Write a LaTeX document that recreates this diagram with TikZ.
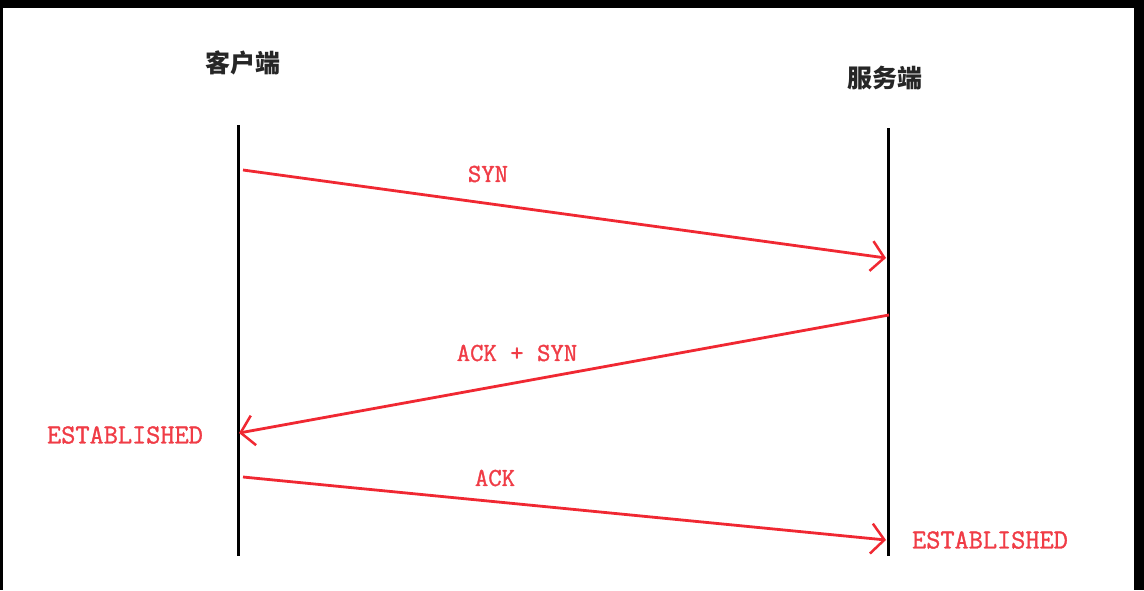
\documentclass[tikz,border=0pt]{standalone}
\usepackage{fontspec}
\newfontfamily\latmono[FakeBold=1.2]{Latin Modern Mono}
\newfontfamily\cjk{Noto Sans CJK SC}
\usetikzlibrary{arrows.meta}
\definecolor{msgred}{RGB}{240,40,50}
\definecolor{lblred}{RGB}{240,60,70}
\tikzset{
  lifeline/.style={line width=3pt, black},
  msg/.style={line width=2.8pt, msgred, -{Straight Barb[length=13pt,width=30pt,line width=2.5pt]}},
  msglbl/.style={font=\latmono\fontsize{26}{28}\selectfont, text=lblred, inner sep=0pt},
  statelbl/.style={font=\latmono\fontsize{27.5}{29}\selectfont, text=lblred, inner sep=0pt},
  partlbl/.style={font=\cjk\bfseries\fontsize{25}{27}\selectfont, text=black!85, inner sep=0pt}
}
\begin{document}
\begin{tikzpicture}[x=1pt,y=-1pt]
\useasboundingbox (0,0) rectangle (1144,590);
\fill[white] (0,0) rectangle (1144,590);
% frame
\fill[black] (0,0) rectangle (1144,8);
\fill[black] (0,0) rectangle (3,590);
\fill[black] (1134,0) rectangle (1144,590);
% participants
\node[partlbl] (client) at (243,63) {客户端};
\node[partlbl] (server) at (885,78) {服务端};
% lifelines
\coordinate (ct) at (238,125);
\coordinate (cb) at (238,556);
\coordinate (st) at (888,128);
\coordinate (sb) at (888,556);
\draw[lifeline] (ct) -- (cb);
\draw[lifeline] (st) -- (sb);
% message end points
\coordinate (m1s) at (243,170);
\coordinate (m1e) at (886,258);
\coordinate (m2s) at (889,315);
\coordinate (m2e) at (239,433);
\coordinate (m3s) at (243,477);
\coordinate (m3e) at (886,540);
\draw[msg] (m1s) -- (m1e);
\draw[msg] (m2s) -- (m2e);
\draw[msg] (m3s) -- (m3e);
% labels
\node[msglbl] (syn) at (488,174) {SYN};
\node[msglbl] (acksyn) at (517,353) {ACK + SYN};
\node[msglbl] (ack) at (495,478) {ACK};
\node[statelbl] (estc) at (125,435) {ESTABLISHED};
\node[statelbl] (ests) at (990,540) {ESTABLISHED};
\end{tikzpicture}
\end{document}
